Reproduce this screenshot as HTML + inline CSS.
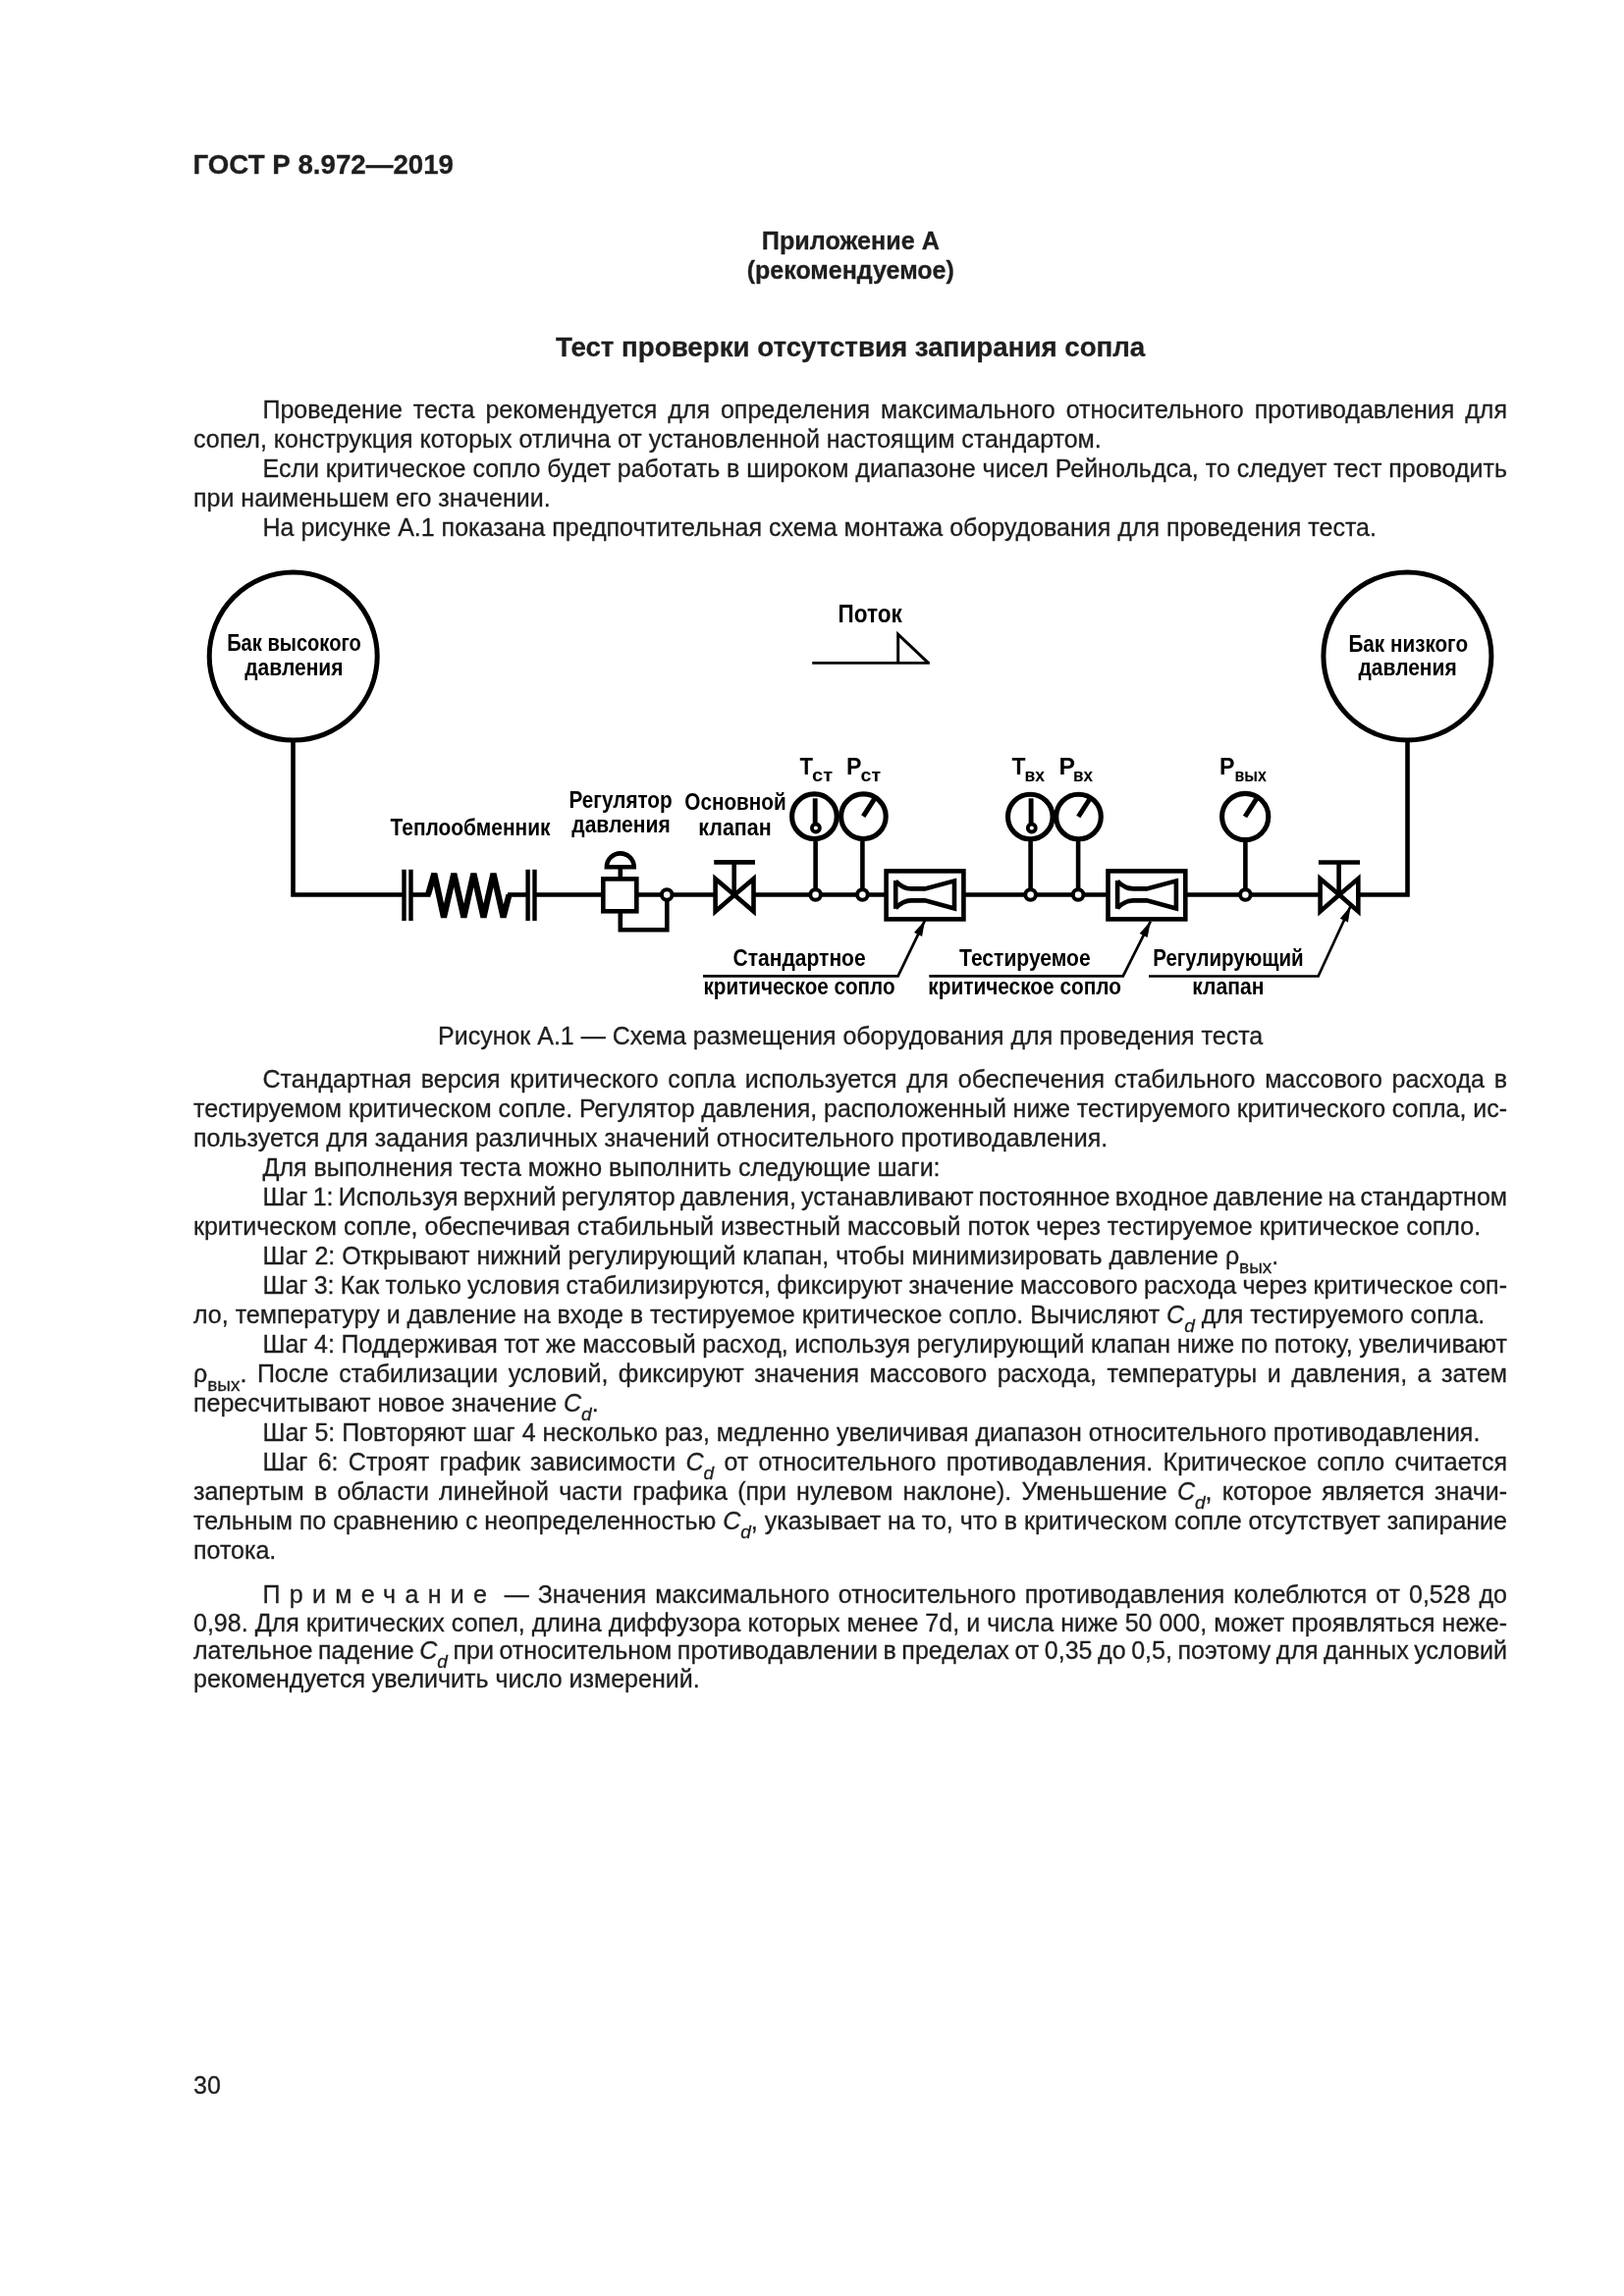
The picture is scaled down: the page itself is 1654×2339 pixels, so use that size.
<!DOCTYPE html>
<html><head><meta charset="utf-8"><title>ГОСТ Р 8.972—2019</title>
<style>
html,body{margin:0;padding:0;background:#fff;}
#pg{position:absolute;left:0;top:0;width:1654px;height:2339px;will-change:transform;-webkit-font-smoothing:antialiased;}
body{width:1654px;height:2339px;position:relative;overflow:hidden;font-family:"Liberation Sans",sans-serif;color:#1e1e1e;font-size:25px;line-height:30px;-webkit-text-stroke:0.3px #1e1e1e;}
.l,.j,.c,.h,.hc{position:absolute;white-space:nowrap;height:30px;}
.j{text-align:justify;text-align-last:justify;white-space:normal;}
.c{text-align:left;}
.h,.hc{font-weight:bold;}
.hc{text-align:center;}
sub{font-size:19px;vertical-align:baseline;position:relative;top:8.7px;line-height:0;}
i sub, sub i{font-style:italic;}
svg{position:absolute;left:0;top:0;}
svg text{font-family:"Liberation Sans",sans-serif;font-weight:bold;fill:#000;stroke:none;-webkit-text-stroke:0;}
</style></head><body><div id="pg">
<div class="l" id="L0" style="top:402.34px;left:267.5px;word-spacing:4.029px;">Проведение теста рекомендуется для определения максимального относительного противодавления для</div>
<div class="l" id="L1" style="top:432.34px;left:197px;">сопел, конструкция которых отлична от установленной настоящим стандартом.</div>
<div class="l" id="L2" style="top:462.34px;left:267.5px;word-spacing:-0.053px;">Если критическое сопло будет работать в широком диапазоне чисел Рейнольдса, то следует тест проводить</div>
<div class="l" id="L3" style="top:492.34px;left:197px;">при наименьшем его значении.</div>
<div class="l" id="L4" style="top:522.34px;left:267.5px;">На рисунке А.1 показана предпочтительная схема монтажа оборудования для проведения теста.</div>
<div class="l" id="L5" style="top:1084.34px;left:267.5px;word-spacing:2.827px;">Стандартная версия критического сопла используется для обеспечения стабильного массового расхода в</div>
<div class="l" id="L6" style="top:1114.34px;left:197px;word-spacing:-0.195px;">тестируемом критическом сопле. Регулятор давления, расположенный ниже тестируемого критического сопла, ис-</div>
<div class="l" id="L7" style="top:1144.34px;left:197px;">пользуется для задания различных значений относительного противодавления.</div>
<div class="l" id="L8" style="top:1174.34px;left:267.5px;">Для выполнения теста можно выполнить следующие шаги:</div>
<div class="l" id="L9" style="top:1204.34px;left:267.5px;word-spacing:-1.753px;">Шаг 1: Используя верхний регулятор давления, устанавливают постоянное входное давление на стандартном</div>
<div class="l" id="L10" style="top:1234.34px;left:197px;">критическом сопле, обеспечивая стабильный известный массовый поток через тестируемое критическое сопло.</div>
<div class="l" id="L11" style="top:1264.34px;left:267.5px;">Шаг 2: Открывают нижний регулирующий клапан, чтобы минимизировать давление &#961;<sub>вых</sub>.</div>
<div class="l" id="L12" style="top:1294.34px;left:267.5px;word-spacing:-0.668px;">Шаг 3: Как только условия стабилизируются, фиксируют значение массового расхода через критическое соп-</div>
<div class="l" id="L13" style="top:1324.34px;left:197px;">ло, температуру и давление на входе в тестируемое критическое сопло. Вычисляют <i>C</i><sub><i>d</i></sub> для тестируемого сопла.</div>
<div class="l" id="L14" style="top:1354.34px;left:267.5px;word-spacing:-0.371px;">Шаг 4: Поддерживая тот же массовый расход, используя регулирующий клапан ниже по потоку, увеличивают</div>
<div class="l" id="L15" style="top:1384.34px;left:197px;word-spacing:3.516px;">&#961;<sub>вых</sub>. После стабилизации условий, фиксируют значения массового расхода, температуры и давления, а затем</div>
<div class="l" id="L16" style="top:1414.34px;left:197px;">пересчитывают новое значение <i>C</i><sub><i>d</i></sub>.</div>
<div class="l" id="L17" style="top:1444.34px;left:267.5px;">Шаг 5: Повторяют шаг 4 несколько раз, медленно увеличивая диапазон относительного противодавления.</div>
<div class="l" id="L18" style="top:1474.34px;left:267.5px;word-spacing:3.335px;">Шаг 6: Строят график зависимости <i>C</i><sub><i>d</i></sub> от относительного противодавления. Критическое сопло считается</div>
<div class="l" id="L19" style="top:1504.34px;left:197px;word-spacing:3.226px;">запертым в области линейной части графика (при нулевом наклоне). Уменьшение <i>C</i><sub><i>d</i></sub>, которое является значи-</div>
<div class="l" id="L20" style="top:1534.34px;left:197px;word-spacing:0.003px;">тельным по сравнению с неопределенностью <i>C</i><sub><i>d</i></sub>, указывает на то, что в критическом сопле отсутствует запирание</div>
<div class="l" id="L21" style="top:1564.34px;left:197px;">потока.</div>
<div class="l" id="L22" style="top:1608.94px;left:267.5px;word-spacing:2.006px;"><span style="letter-spacing:0.372em">Примечани</span>е&nbsp; — Значения максимального относительного противодавления колеблются от 0,528 до</div>
<div class="l" id="L23" style="top:1638.04px;left:197px;word-spacing:0.107px;">0,98. Для критических сопел, длина диффузора которых менее 7d, и числа ниже 50 000, может проявляться неже-</div>
<div class="l" id="L24" style="top:1666.34px;left:197px;word-spacing:-1.336px;">лательное падение <i>C</i><sub><i>d</i></sub> при относительном противодавлении в пределах от 0,35 до 0,5, поэтому для данных условий</div>
<div class="l" id="L25" style="top:1694.94px;left:197px;">рекомендуется увеличить число измерений.</div>
<div class="c" style="top:1039.64px;left:0;width:1654px;padding-left:446px">Рисунок А.1 — Схема размещения оборудования для проведения теста</div>
<div class="h" style="top:152.70px;left:196.5px;font-size:27.7px">ГОСТ Р 8.972—2019</div>
<div class="hc" style="top:230.37px;left:566.4px;width:600px;font-size:25.2px">Приложение А</div>
<div class="hc" style="top:259.84px;left:566.3px;width:600px;font-size:25.0px">(рекомендуемое)</div>
<div class="hc" style="top:339.30px;left:466.1px;width:800px;font-size:27.7px">Тест проверки отсутствия запирания сопла</div>
<div class="l" style="top:2109.24px;left:197px;width:100px">30</div>
<svg width="1654" height="2339" viewBox="0 0 1654 2339" stroke="#000" fill="none">
<circle cx="298.7" cy="668.6" r="85.5" stroke-width="5.0" fill="#fff"/>
<circle cx="1433.4" cy="668.5" r="85.5" stroke-width="5.0" fill="#fff"/>
<polyline points="298.5,754.2 298.5,911.5 411.5,911.5" stroke-width="4.6" stroke-linejoin="miter" fill="none"/>
<line x1="411.5" y1="885.8" x2="411.5" y2="938.0" stroke-width="4.4"/>
<line x1="418.5" y1="885.8" x2="418.5" y2="938.0" stroke-width="4.4"/>
<line x1="537.6" y1="885.8" x2="537.6" y2="938.0" stroke-width="4.4"/>
<line x1="544.5" y1="885.8" x2="544.5" y2="938.0" stroke-width="4.4"/>
<line x1="418.5" y1="911.5" x2="438.5" y2="911.5" stroke-width="4.6"/>
<polyline points="436.0,911.5 442.3,889.9 452.0,934.5 462.3,889.9 472.4,934.5 482.4,889.9 492.5,934.5 502.5,889.9 512.6,934.5 518.5,911.5" stroke-width="6.2" stroke-linejoin="bevel" fill="none"/>
<line x1="517.0" y1="911.5" x2="537.6" y2="911.5" stroke-width="4.6"/>
<line x1="544.5" y1="911.5" x2="614.3" y2="911.5" stroke-width="4.6"/>
<rect x="614.3" y="895.4" width="34" height="32.9" stroke-width="4.6" fill="none"/>
<line x1="631.8" y1="883.3" x2="631.8" y2="895.4" stroke-width="4.6"/>
<path d="M617.9,883.3 A13.9,13.9 0 0 1 645.7,883.3 Z" stroke-width="4.6" fill="none" stroke-linejoin="miter"/>
<polyline points="631.8,928.3 631.8,947.2 679.3,947.2 679.3,916.0" stroke-width="4.6" stroke-linejoin="miter" fill="none"/>
<line x1="648.3" y1="911.5" x2="728.5" y2="911.5" stroke-width="4.6"/>
<circle cx="679.2" cy="911.5" r="5.3" stroke-width="4.0" fill="#fff"/>
<polygon points="728.6,895.2 728.6,928.4 748.0,911.8" stroke-width="4.6" stroke-linejoin="miter" fill="none" stroke-miterlimit="10"/>
<polygon points="767.5,895.2 767.5,928.4 748.0,911.8" stroke-width="4.6" stroke-linejoin="miter" fill="none" stroke-miterlimit="10"/>
<line x1="747.7" y1="878.4" x2="747.7" y2="911.8" stroke-width="4.6"/>
<line x1="727.2" y1="878.4" x2="769.0" y2="878.4" stroke-width="4.7"/>
<line x1="767.5" y1="911.5" x2="902.6" y2="911.5" stroke-width="4.6"/>
<line x1="981.4" y1="911.5" x2="1128.9" y2="911.5" stroke-width="4.6"/>
<line x1="1207.7" y1="911.5" x2="1344.6" y2="911.5" stroke-width="4.6"/>
<circle cx="829.4" cy="831.7" r="22.8" stroke-width="5.1" fill="none"/>
<line x1="830.6" y1="856.5" x2="830.6" y2="911.5" stroke-width="4.6"/>
<line x1="830.1999999999999" y1="813.3" x2="830.1999999999999" y2="840.0" stroke-width="4.9"/>
<circle cx="830.9" cy="843.5" r="4.0" stroke-width="3.8" fill="#fff"/>
<circle cx="830.6" cy="911.5" r="5.3" stroke-width="4.0" fill="#fff"/>
<circle cx="879.4" cy="831.7" r="22.8" stroke-width="5.1" fill="none"/>
<line x1="878.4" y1="856.5" x2="878.4" y2="911.5" stroke-width="4.6"/>
<line x1="879.1999999999999" y1="831.7" x2="890.4" y2="814.2" stroke-width="5.0"/>
<circle cx="878.4" cy="911.5" r="5.3" stroke-width="4.0" fill="#fff"/>
<circle cx="1049.3" cy="832.0" r="22.8" stroke-width="5.1" fill="none"/>
<line x1="1049.6" y1="856.8" x2="1049.6" y2="911.5" stroke-width="4.6"/>
<line x1="1050.1" y1="813.3" x2="1050.1" y2="840.0" stroke-width="4.9"/>
<circle cx="1050.8" cy="843.5" r="4.0" stroke-width="3.8" fill="#fff"/>
<circle cx="1049.6" cy="911.5" r="5.3" stroke-width="4.0" fill="#fff"/>
<circle cx="1098.5" cy="832.0" r="22.8" stroke-width="5.1" fill="none"/>
<line x1="1098.1" y1="856.8" x2="1098.1" y2="911.5" stroke-width="4.6"/>
<line x1="1098.3" y1="832.0" x2="1109.5" y2="814.5" stroke-width="5.0"/>
<circle cx="1098.1" cy="911.5" r="5.3" stroke-width="4.0" fill="#fff"/>
<circle cx="1268.2" cy="832.0" r="23.6" stroke-width="5.1" fill="none"/>
<line x1="1268.4" y1="857.6" x2="1268.4" y2="911.5" stroke-width="4.6"/>
<line x1="1268.0" y1="832.0" x2="1279.5859649122808" y2="813.8859649122807" stroke-width="5.0"/>
<circle cx="1268.4" cy="911.5" r="5.3" stroke-width="4.0" fill="#fff"/>
<rect x="902.6" y="887.4" width="78.8" height="49.0" stroke-width="4.6" fill="none"/>
<path d="M912.2,897.6 Q919.5,905.4 928.0,905.4 L942.0,905.4 L972.0,897.4 L972.0,925.4 L942.0,917.4 L928.0,917.4 Q919.5,917.4 912.2,925.2" stroke-width="4.6" fill="none" stroke-linejoin="miter" stroke-miterlimit="4" stroke-linecap="butt"/>
<line x1="912.2" y1="897.0" x2="912.2" y2="925.8" stroke-width="4.6"/>
<rect x="1128.5" y="887.4" width="78.8" height="49.0" stroke-width="4.6" fill="none"/>
<path d="M1138.1000000000001,897.6 Q1145.4,905.4 1153.9,905.4 L1167.9,905.4 L1197.9,897.4 L1197.9,925.4 L1167.9,917.4 L1153.9,917.4 Q1145.4,917.4 1138.1000000000001,925.2" stroke-width="4.6" fill="none" stroke-linejoin="miter" stroke-miterlimit="4" stroke-linecap="butt"/>
<line x1="1138.1000000000001" y1="897.0" x2="1138.1000000000001" y2="925.8" stroke-width="4.6"/>
<polygon points="1344.6,895.2 1344.6,928.4 1364.0,911.5" stroke-width="4.6" stroke-linejoin="miter" fill="none" stroke-miterlimit="10"/>
<polygon points="1383.3,895.2 1383.3,928.4 1364.0,911.5" stroke-width="4.6" stroke-linejoin="miter" fill="none" stroke-miterlimit="10"/>
<line x1="1363.6" y1="878.5" x2="1363.6" y2="911.5" stroke-width="4.6"/>
<line x1="1342.9" y1="878.5" x2="1385.0" y2="878.5" stroke-width="4.7"/>
<polyline points="1383.3,911.5 1433.5,911.5 1433.5,754.0" stroke-width="4.6" stroke-linejoin="miter" fill="none"/>
<polyline points="716.0,994.4 914.6,994.4 942.0,937.6" stroke-width="2.7" stroke-linejoin="miter" fill="none"/>
<polygon points="942.0,937.6 939.10,953.97 931.00,950.06" fill="#000" stroke="none"/>
<polyline points="946.3,994.4 1143.8,994.4 1171.8,938.6" stroke-width="2.7" stroke-linejoin="miter" fill="none"/>
<polygon points="1171.8,938.6 1168.65,954.92 1160.60,950.88" fill="#000" stroke="none"/>
<polyline points="1170.0,994.5 1342.6,994.5 1375.6,923.0" stroke-width="2.7" stroke-linejoin="miter" fill="none"/>
<polygon points="1375.6,923.0 1372.98,939.41 1364.81,935.64" fill="#000" stroke="none"/>
<line x1="827.2" y1="675.4" x2="946.9" y2="675.4" stroke-width="2.8"/>
<polyline points="914.7,675.4 914.7,646.2 945.5,675.4" stroke-width="3.0" stroke-linejoin="miter" fill="none"/>
<text x="231.2" y="662.9" font-size="23" textLength="136.6" lengthAdjust="spacingAndGlyphs">Бак высокого</text>
<text x="249.3" y="687.7" font-size="23" textLength="100.2" lengthAdjust="spacingAndGlyphs">давления</text>
<text x="1373.5" y="663.8" font-size="23" textLength="121.6" lengthAdjust="spacingAndGlyphs">Бак низкого</text>
<text x="1383.5" y="688.4" font-size="23" textLength="100.2" lengthAdjust="spacingAndGlyphs">давления</text>
<text x="853.5" y="633.8" font-size="25" textLength="65.2" lengthAdjust="spacingAndGlyphs">Поток</text>
<text x="397.5" y="850.9" font-size="23" textLength="163.0" lengthAdjust="spacingAndGlyphs">Теплообменник</text>
<text x="579.5" y="822.7" font-size="23" textLength="105.2" lengthAdjust="spacingAndGlyphs">Регулятор</text>
<text x="582.3" y="847.7" font-size="23" textLength="100.4" lengthAdjust="spacingAndGlyphs">давления</text>
<text x="697.3" y="825.3" font-size="23" textLength="103.4" lengthAdjust="spacingAndGlyphs">Основной</text>
<text x="711.3" y="851.0" font-size="23" textLength="74.4" lengthAdjust="spacingAndGlyphs">клапан</text>
<text x="746.5" y="984.2" font-size="23" textLength="135.2" lengthAdjust="spacingAndGlyphs">Стандартное</text>
<text x="716.5" y="1013.0" font-size="23" textLength="195.0" lengthAdjust="spacingAndGlyphs">критическое сопло</text>
<text x="977.1" y="983.8" font-size="23" textLength="133.6" lengthAdjust="spacingAndGlyphs">Тестируемое</text>
<text x="945.3" y="1012.8" font-size="23" textLength="196.6" lengthAdjust="spacingAndGlyphs">критическое сопло</text>
<text x="1174.3" y="983.8" font-size="23" textLength="153.4" lengthAdjust="spacingAndGlyphs">Регулирующий</text>
<text x="1214.3" y="1012.9" font-size="23" textLength="73.2" lengthAdjust="spacingAndGlyphs">клапан</text>
<text x="814.5" y="788.7" font-size="24.5" textLength="13.5" lengthAdjust="spacingAndGlyphs">T</text>
<text x="827.0" y="795.9" font-size="18" textLength="21.0" lengthAdjust="spacingAndGlyphs">ст</text>
<text x="862.0" y="788.7" font-size="24.5" textLength="15.5" lengthAdjust="spacingAndGlyphs">P</text>
<text x="876.5" y="795.9" font-size="18" textLength="20.5" lengthAdjust="spacingAndGlyphs">ст</text>
<text x="1030.5" y="788.7" font-size="24.5" textLength="14.0" lengthAdjust="spacingAndGlyphs">T</text>
<text x="1043.5" y="795.9" font-size="18" textLength="20.5" lengthAdjust="spacingAndGlyphs">вх</text>
<text x="1078.5" y="788.7" font-size="24.5" textLength="16.5" lengthAdjust="spacingAndGlyphs">P</text>
<text x="1093.0" y="795.9" font-size="18" textLength="20.0" lengthAdjust="spacingAndGlyphs">вх</text>
<text x="1242.0" y="788.7" font-size="24.5" textLength="15.5" lengthAdjust="spacingAndGlyphs">P</text>
<text x="1257.5" y="795.9" font-size="18" textLength="32.5" lengthAdjust="spacingAndGlyphs">вых</text>
</svg>
</div></body></html>
